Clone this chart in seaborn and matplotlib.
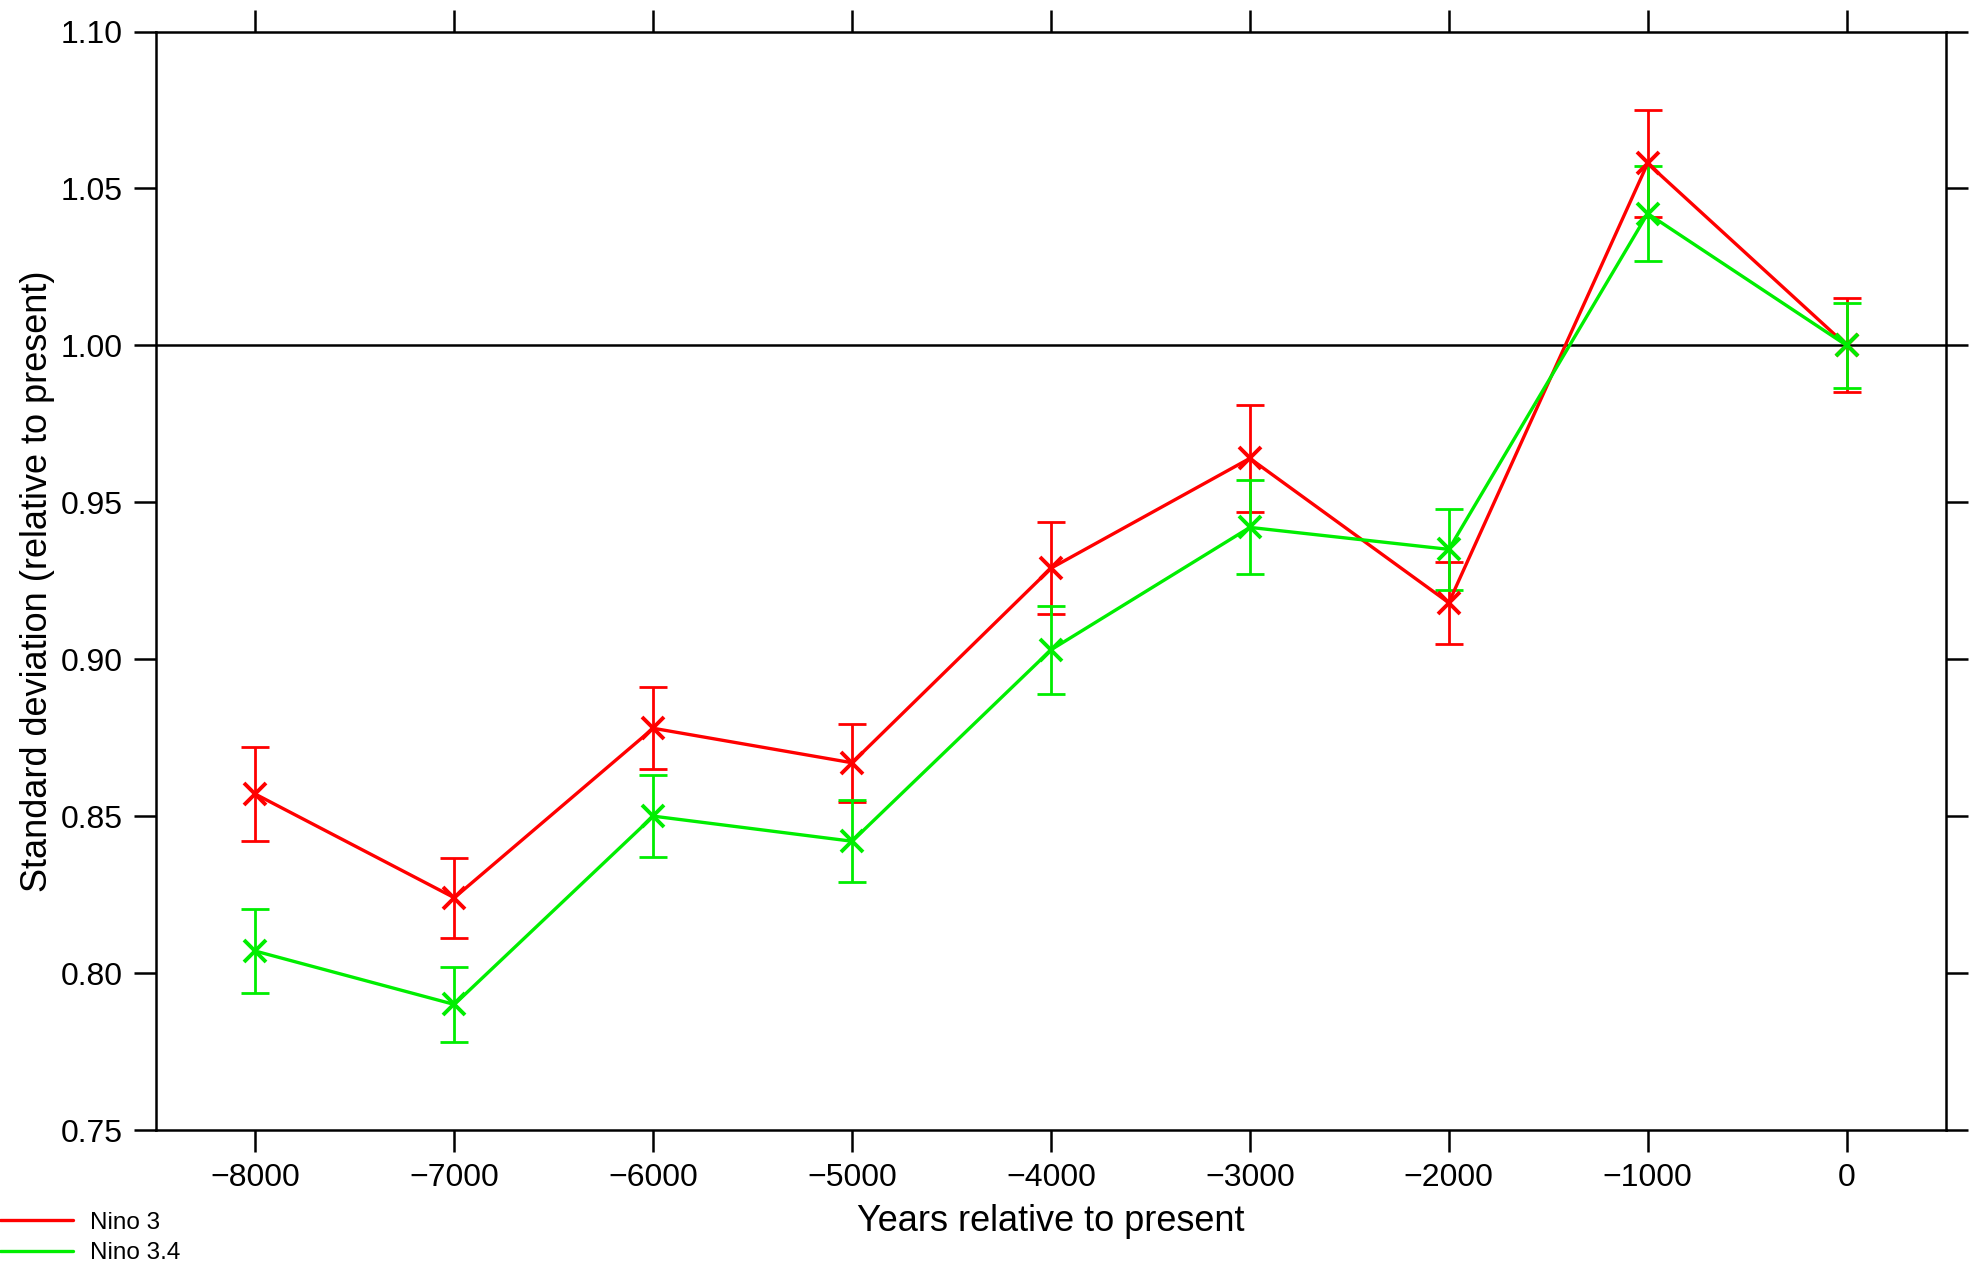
import numpy as np
import pandas as pd
import matplotlib
matplotlib.use("Agg")
import matplotlib.pyplot as plt
import seaborn as sns
from matplotlib.lines import Line2D

sns.set_style("ticks")
plt.rcParams["font.family"] = ["Liberation Sans", "DejaVu Sans"]
plt.rcParams["text.color"] = "black"
plt.rcParams["axes.labelcolor"] = "black"
plt.rcParams["xtick.color"] = "black"
plt.rcParams["ytick.color"] = "black"
plt.rcParams["axes.edgecolor"] = "black"

# 数据
years = [-8000, -7000, -6000, -5000, -4000, -3000, -2000, -1000, 0]
nino3 = [0.857, 0.824, 0.878, 0.867, 0.929, 0.964, 0.918, 1.058, 1.000]
nino3_err = [0.015, 0.0127, 0.013, 0.0125, 0.0146, 0.017, 0.013, 0.017, 0.015]
nino34 = [0.807, 0.790, 0.850, 0.842, 0.903, 0.942, 0.935, 1.042, 1.000]
nino34_err = [0.0135, 0.012, 0.013, 0.013, 0.014, 0.015, 0.013, 0.015, 0.0136]

df = pd.DataFrame({
    "year": years * 2,
    "std": nino3 + nino34,
    "err": nino3_err + nino34_err,
    "region": ["Nino 3"] * len(years) + ["Nino 3.4"] * len(years),
})
colors = {"Nino 3": "#ff0000", "Nino 3.4": "#00ee00"}

fig = plt.figure(figsize=(19.73, 12.66), dpi=100)
ax = fig.add_axes([156 / 1973, 1 - 1130 / 1266, (1946 - 156) / 1973, (1130 - 31.5) / 1266])

ax.axhline(1.0, color="black", lw=1.8, zorder=1)

for name, sub in df.groupby("region"):
    ax.errorbar(sub["year"], sub["std"], yerr=sub["err"], fmt="none",
                ecolor=colors[name], elinewidth=2.0, capsize=10, capthick=2.0, zorder=2)

n_before = len(ax.lines)
sns.lineplot(data=df, x="year", y="std", hue="region", palette=colors,
             marker="x", markersize=16, markeredgewidth=2.8, linewidth=2.4,
             legend=False, ax=ax, zorder=3)
# 标记颜色与线一致
for ln in ax.lines[n_before:]:
    ln.set_markeredgecolor(ln.get_color())

ax.set_xlim(-8500, 500)
ax.set_ylim(0.75, 1.10)
ax.set_xticks(np.arange(-8000, 1, 1000))
ax.set_yticks(np.arange(0.75, 1.101, 0.05))
ax.set_yticklabels([f"{v:.2f}" for v in np.arange(0.75, 1.101, 0.05)])
ax.tick_params(direction="out", length=16, width=1.8, labelsize=23, pad=8,
               top=True, right=True, labeltop=False, labelright=False)
for s in ax.spines.values():
    s.set_visible(True)
    s.set_linewidth(1.8)

ax.set_xlabel("Years relative to present", fontsize=26, labelpad=8)
ax.set_ylabel("Standard deviation (relative to present)", fontsize=26, labelpad=4)

handles = [Line2D([0], [0], color=colors[k], lw=2.4) for k in colors]
fig.legend(handles, list(colors.keys()), loc="lower left", bbox_to_anchor=(-0.01, -0.014),
           frameon=False, fontsize=17.5, handlelength=3.0, handletextpad=0.7,
           labelspacing=0.35, borderpad=0.3)

fig.savefig("out.png", dpi=100)
